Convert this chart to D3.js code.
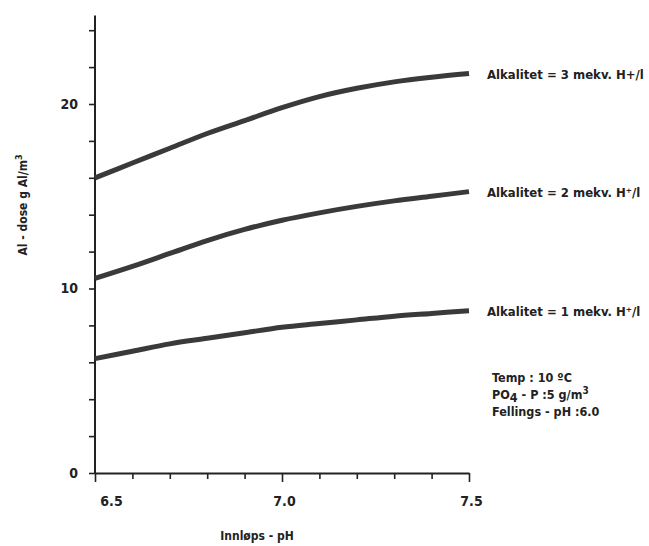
<!DOCTYPE html>
<html>
<head>
<meta charset="utf-8">
<script src="https://cdn.jsdelivr.net/npm/d3@7"></script>
<style>
  body { margin: 0; background: #fff; }
  text { font-family: "DejaVu Sans Condensed", "Liberation Sans Narrow", sans-serif; font-weight: bold; fill: #222; }
</style>
</head>
<body>
<div id="chart"></div>
<script>
// inlet pH values
var ph = [6.5, 6.6, 6.7, 6.8, 6.9, 7.0, 7.1, 7.2, 7.3, 7.4, 7.5];

// Al dose (g Al/m3) per alkalinity
var alk3 = [16.0, 16.8, 17.6, 18.4, 19.1, 19.8, 20.4, 20.85, 21.2, 21.45, 21.65];
var alk2 = [10.55, 11.2, 11.9, 12.6, 13.2, 13.7, 14.1, 14.45, 14.75, 15.0, 15.25];
var alk1 = [6.2, 6.6, 7.0, 7.3, 7.6, 7.9, 8.1, 8.3, 8.5, 8.65, 8.8];

var seriesNames = ["Alkalitet = 3 mekv. H+/l", "Alkalitet = 2 mekv. H\u207A/l", "Alkalitet = 1 mekv. H\u207A/l"];

var xTicks = [6.5, 6.6, 6.7, 6.8, 6.9, 7.0, 7.1, 7.2, 7.3, 7.4, 7.5];
var xLabels = [6.5, 7.0, 7.5];
var yTicks = [0, 2, 4, 6, 8, 10, 12, 14, 16, 18, 20, 22, 24];
var yLabels = [0, 10, 20];

var width = 649, height = 546;

var svg = d3.select("#chart")
  .append("svg")
  .attr("width", width)
  .attr("height", height);

var x = d3.scaleLinear().domain([6.5, 7.5]).range([95, 469]);
var y = d3.scaleLinear().domain([0, 20]).range([473, 104]);

// Y axis
var yAxis = svg.append("g")
  .attr("transform", "translate(" + x(6.5) + ",0)")
  .call(d3.axisLeft(y)
    .tickValues(yTicks)
    .tickSize(6)
    .tickSizeOuter(0)
    .tickFormat(function(d) { return yLabels.indexOf(d) >= 0 ? d : ""; }));
yAxis.select(".domain").remove();
yAxis.append("line")
  .attr("x1", 0).attr("x2", 0)
  .attr("y1", y(0)).attr("y2", y(24.8))
  .attr("stroke", "#222").attr("stroke-width", 2);
yAxis.selectAll(".tick line").attr("stroke", "#222").attr("stroke-width", 1.6);
yAxis.selectAll(".tick text")
  .attr("x", -17)
  .style("font-size", "14px");

// X axis
var xAxis = svg.append("g")
  .attr("transform", "translate(0," + y(0) + ")")
  .call(d3.axisBottom(x)
    .tickValues(xTicks)
    .tickSize(6)
    .tickSizeOuter(0)
    .tickFormat(function(d) { return xLabels.indexOf(d) >= 0 ? d3.format(".1f")(d) : ""; }));
xAxis.select(".domain").attr("stroke", "#222").attr("stroke-width", 2);
xAxis.selectAll(".tick line")
  .attr("stroke", "#222").attr("stroke-width", 1.6)
  .attr("y2", function(d) { return xLabels.indexOf(d) >= 0 ? 9 : 6; });
xAxis.selectAll(".tick text")
  .attr("y", 23)
  .attr("dx", function(d) { return d === 6.5 ? 16 : 2; })
  .style("font-size", "14px");

// axis titles
svg.append("text")
  .attr("x", 257).attr("y", 540)
  .attr("text-anchor", "middle")
  .style("font-size", "12px")
  .text("Innløps - pH");

var yTitle = svg.append("text")
  .attr("transform", "translate(27,205) rotate(-90)")
  .attr("text-anchor", "middle")
  .style("font-size", "12px");
yTitle.append("tspan").text("Al - dose g Al/m");
yTitle.append("tspan").attr("dy", -5).style("font-size", "9px").text("3");

// curves
var line = d3.line()
  .curve(d3.curveCatmullRom)
  .x(function(d, i) { return x(ph[i]); })
  .y(function(d) { return y(d); });

var allSeries = [alk3, alk2, alk1];
allSeries.forEach(function(s, k) {
  svg.append("path")
    .datum(s)
    .attr("fill", "none")
    .attr("stroke", "#3a3a3a")
    .attr("stroke-width", 5)
    .attr("stroke-linecap", "butt")
    .attr("d", line);

  svg.append("text")
    .attr("x", 487)
    .attr("y", y(s[s.length - 1]) + 5)
    .style("font-size", "13px")
    .text(seriesNames[k]);
});

// conditions note
var note = svg.append("g").style("font-size", "12.5px");
note.append("text").attr("x", 492).attr("y", 382).text("Temp : 10 \u00BAC");
var po = note.append("text").attr("x", 492).attr("y", 399);
po.append("tspan").text("PO");
po.append("tspan").attr("dy", 3).text("4");
po.append("tspan").attr("dy", -3).text(" - P :5 g/m");
po.append("tspan").attr("dy", -5).style("font-size", "10px").text("3");
note.append("text").attr("x", 492).attr("y", 416).text("Fellings - pH :6.0");
</script>
</body>
</html>
